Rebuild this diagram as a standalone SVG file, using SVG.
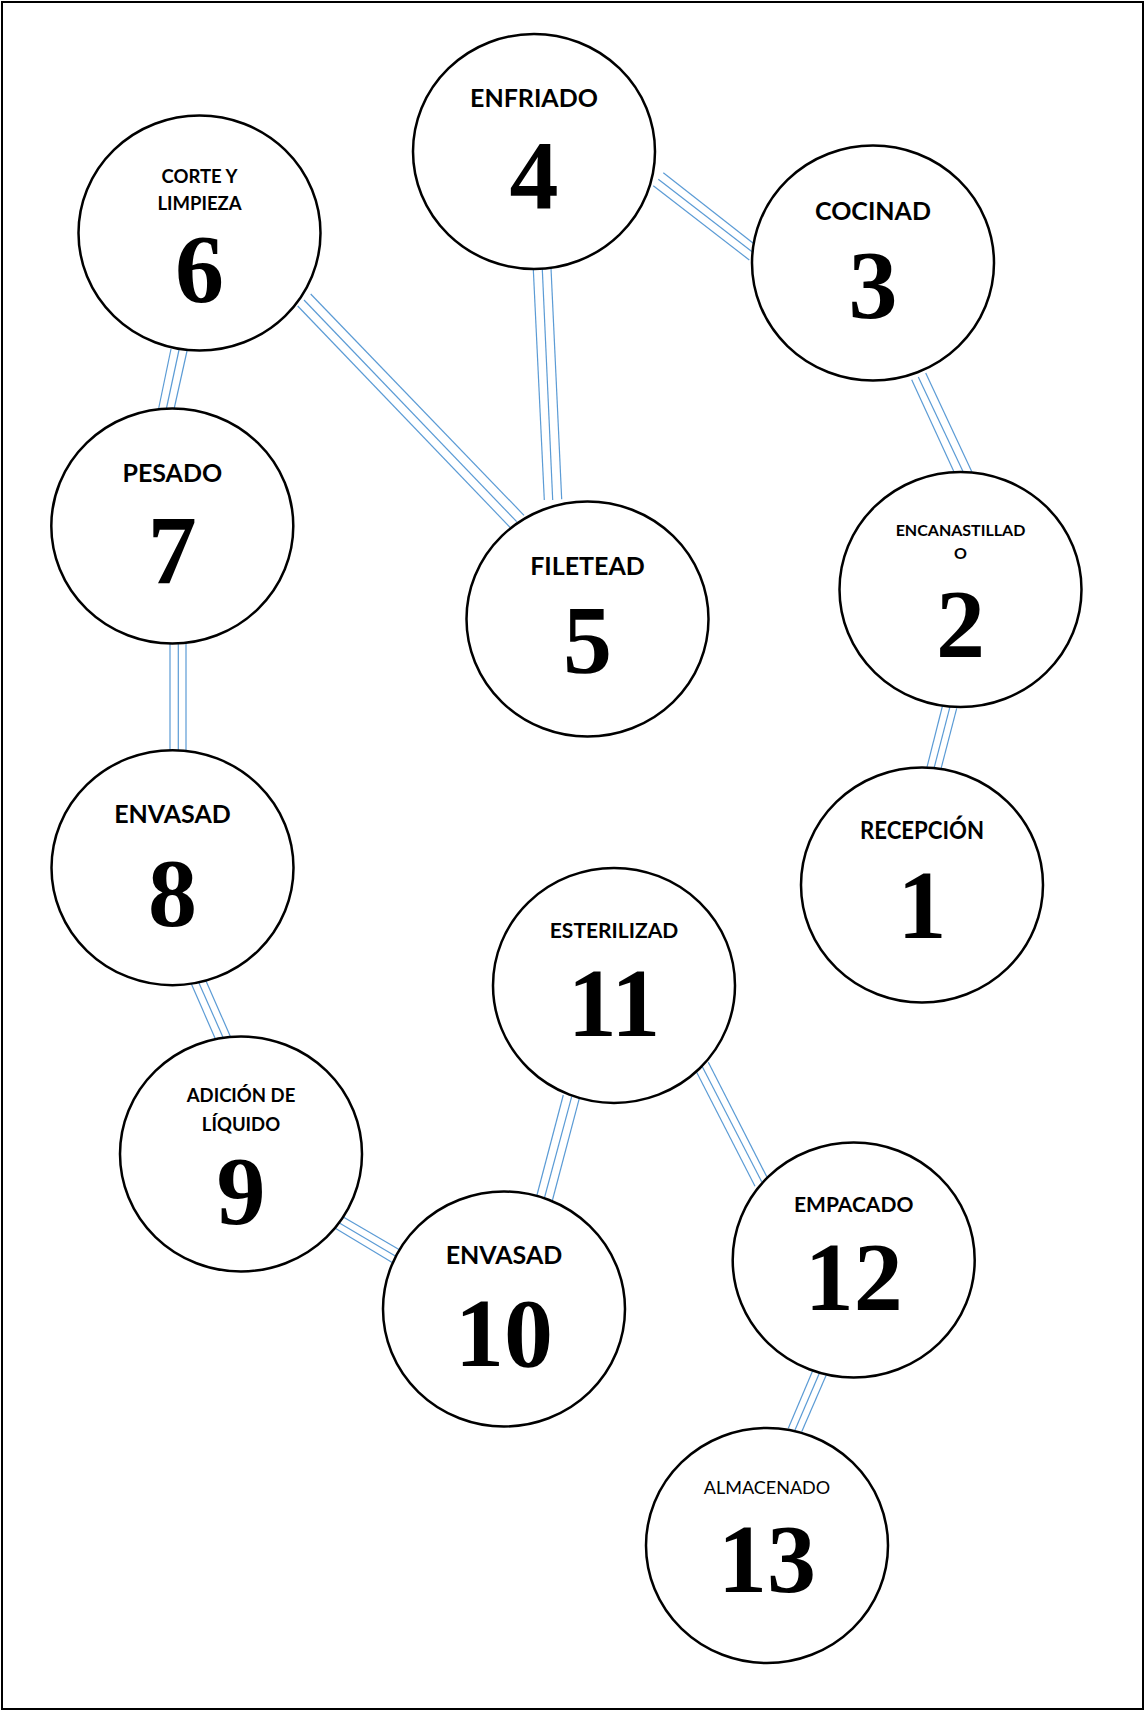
<svg xmlns="http://www.w3.org/2000/svg" width="1145" height="1711" viewBox="0 0 1145 1711">
<style>
.n{fill:#fff;stroke:#000;stroke-width:2.5}
.lb{font-family:Lato,"Open Sans","Liberation Sans",sans-serif;font-weight:bold;fill:#000;text-anchor:middle}
.lr{font-family:Lato,"Open Sans","Liberation Sans",sans-serif;font-weight:normal;fill:#000;text-anchor:middle}
.num{font-family:"Liberation Serif","Times New Roman",serif;font-weight:bold;font-size:98px;fill:#000;text-anchor:middle}
.c line{stroke:#5B9BD5;stroke-width:1.2}
</style>
<rect x="2" y="2" width="1141" height="1707" fill="#fff" stroke="#000" stroke-width="2"/>
<g id="connectors" class="c">
<line x1="663.3" y1="172.7" x2="759" y2="247.7"/>
<line x1="658.3" y1="179.3" x2="755" y2="254"/>
<line x1="653.3" y1="185.7" x2="749.3" y2="260"/>
<line x1="533.3" y1="269.3" x2="544.3" y2="500"/>
<line x1="542.3" y1="269.3" x2="552.7" y2="500"/>
<line x1="551" y1="268.3" x2="561.7" y2="499.3"/>
<line x1="310.7" y1="294" x2="524" y2="515.3"/>
<line x1="304" y1="300" x2="516.7" y2="521.7"/>
<line x1="297.7" y1="306" x2="510" y2="527.3"/>
<line x1="171" y1="349" x2="157.5" y2="414"/>
<line x1="179" y1="350" x2="165" y2="415"/>
<line x1="187" y1="351" x2="172.5" y2="416"/>
<line x1="170" y1="642" x2="170" y2="750"/>
<line x1="178.3" y1="642" x2="178.3" y2="750"/>
<line x1="186" y1="642" x2="186" y2="750"/>
<line x1="191" y1="983" x2="217.4" y2="1043.6"/>
<line x1="198.5" y1="982" x2="224.2" y2="1040"/>
<line x1="206" y1="981" x2="230.6" y2="1037"/>
<line x1="342.4" y1="1216.6" x2="408" y2="1254.8"/>
<line x1="339" y1="1222.7" x2="404.6" y2="1261.6"/>
<line x1="335.7" y1="1228.4" x2="400.5" y2="1267.6"/>
<line x1="563.3" y1="1095" x2="536.2" y2="1198"/>
<line x1="571.7" y1="1096.6" x2="544" y2="1199.5"/>
<line x1="579.3" y1="1098.3" x2="552.1" y2="1201.5"/>
<line x1="695" y1="1069" x2="755" y2="1186.2"/>
<line x1="701.7" y1="1065.5" x2="761.7" y2="1181.8"/>
<line x1="708.3" y1="1062.2" x2="767.3" y2="1177.8"/>
<line x1="813.3" y1="1369.3" x2="788.3" y2="1428.3"/>
<line x1="820" y1="1371.7" x2="795" y2="1430"/>
<line x1="826.7" y1="1374" x2="801.7" y2="1431.7"/>
<line x1="911.7" y1="379.7" x2="956.7" y2="477.7"/>
<line x1="918.3" y1="377" x2="964.3" y2="474.3"/>
<line x1="925.7" y1="373" x2="971.7" y2="471.5"/>
<line x1="942.7" y1="705" x2="926.7" y2="768.3"/>
<line x1="950" y1="706.7" x2="933.3" y2="771"/>
<line x1="956.7" y1="708.3" x2="940" y2="772.7"/>
</g>
<g id="node1"><ellipse class="n" cx="922" cy="885" rx="121" ry="117.5"/><text class="lb" x="922" y="839" font-size="24" textLength="124" lengthAdjust="spacingAndGlyphs">RECEPCIÓN</text><text class="num" x="922" y="938">1</text></g>
<g id="node2"><ellipse class="n" cx="960.5" cy="589.5" rx="121" ry="117.5"/><text class="lb" x="960.5" y="536" font-size="16">ENCANASTILLAD</text><text class="lb" x="960.5" y="558.7" font-size="16">O</text><text class="num" x="960.5" y="656.7">2</text></g>
<g id="node3"><ellipse class="n" cx="873" cy="263" rx="121" ry="117.5"/><text class="lb" x="873" y="220" font-size="25">COCINAD</text><text class="num" x="873" y="318">3</text></g>
<g id="node4"><ellipse class="n" cx="534" cy="151.5" rx="121" ry="117.5"/><text class="lb" x="534" y="107" font-size="25">ENFRIADO</text><text class="num" x="534" y="208">4</text></g>
<g id="node5"><ellipse class="n" cx="587.5" cy="619" rx="121" ry="117.5"/><text class="lb" x="587.5" y="575" font-size="25">FILETEAD</text><text class="num" x="587.5" y="673">5</text></g>
<g id="node6"><ellipse class="n" cx="199.5" cy="233" rx="121" ry="117.5"/><text class="lb" x="199.5" y="182.7" font-size="18.5">CORTE Y</text><text class="lb" x="199.5" y="210" font-size="18.5">LIMPIEZA</text><text class="num" x="199.5" y="301.7">6</text></g>
<g id="node7"><ellipse class="n" cx="172.3" cy="526" rx="121" ry="117.5"/><text class="lb" x="172.3" y="482.3" font-size="25">PESADO</text><text class="num" x="172.3" y="583">7</text></g>
<g id="node8"><ellipse class="n" cx="172.5" cy="867.7" rx="121" ry="117.5"/><text class="lb" x="172.5" y="823" font-size="25">ENVASAD</text><text class="num" x="172.5" y="925.5">8</text></g>
<g id="node9"><ellipse class="n" cx="241" cy="1154" rx="121" ry="117.5"/><text class="lb" x="241" y="1102" font-size="18.5">ADICIÓN DE</text><text class="lb" x="241" y="1130.8" font-size="18.5">LÍQUIDO</text><text class="num" x="241" y="1224">9</text></g>
<g id="node10"><ellipse class="n" cx="504" cy="1309" rx="121" ry="117.5"/><text class="lb" x="504" y="1264" font-size="25">ENVASAD</text><text class="num" x="504" y="1366">10</text></g>
<g id="node11"><ellipse class="n" cx="614" cy="985.4" rx="121" ry="117.5"/><text class="lb" x="614" y="938" font-size="21">ESTERILIZAD</text><text class="num" x="614" y="1036">11</text></g>
<g id="node12"><ellipse class="n" cx="853.7" cy="1260" rx="121" ry="117.5"/><text class="lb" x="853.7" y="1211.6" font-size="21">EMPACADO</text><text class="num" x="853.7" y="1309.6">12</text></g>
<g id="node13"><ellipse class="n" cx="767" cy="1545.5" rx="121" ry="117.5"/><text class="lr" x="767" y="1494" font-size="18">ALMACENADO</text><text class="num" x="767" y="1592">13</text></g>
</svg>
